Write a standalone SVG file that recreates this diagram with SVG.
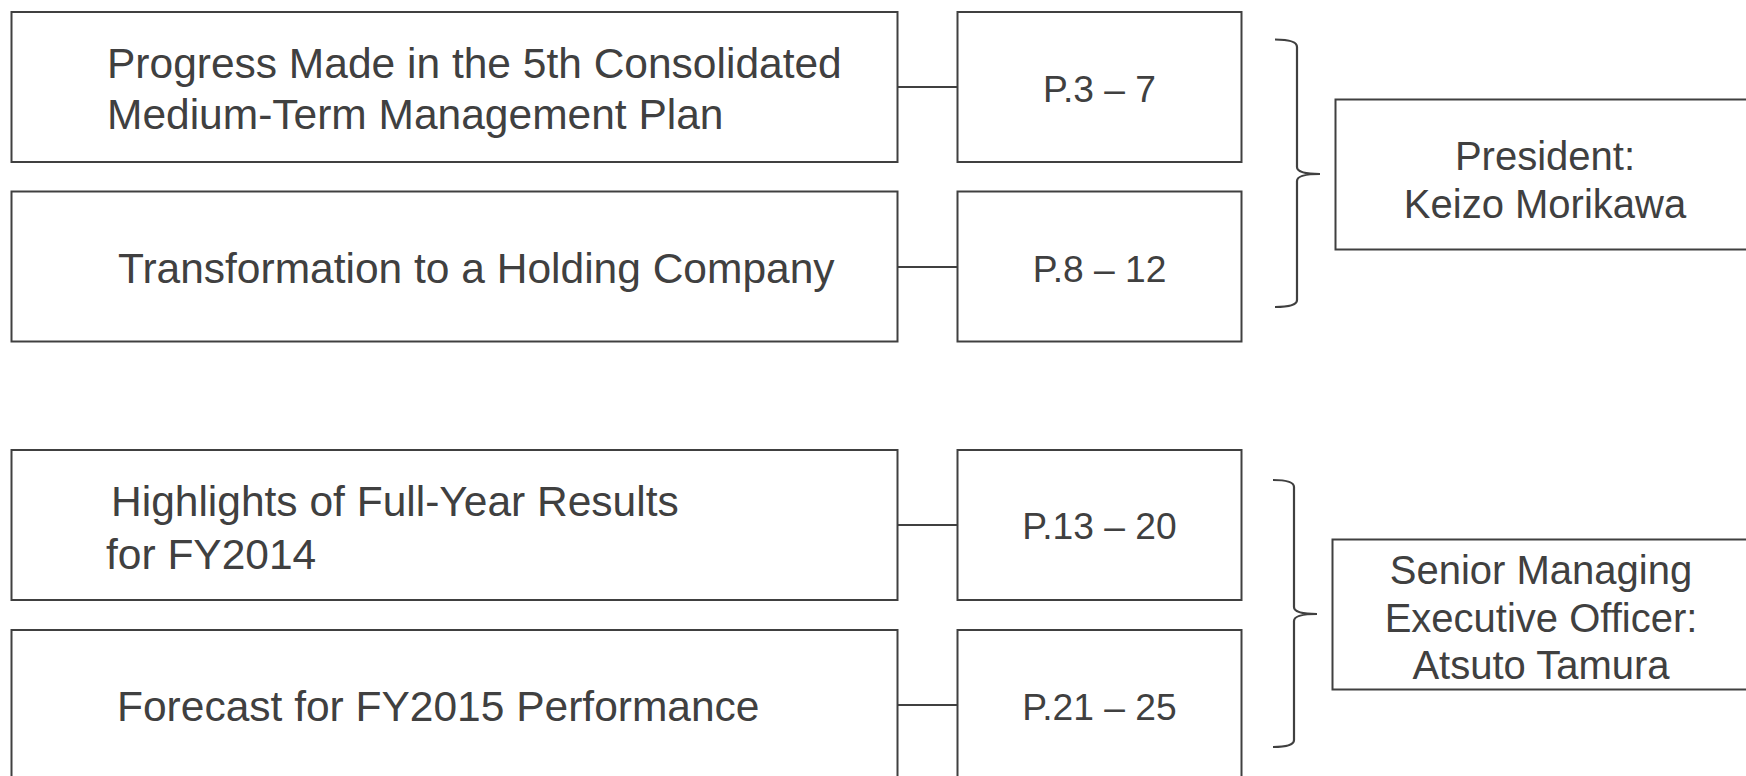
<svg xmlns="http://www.w3.org/2000/svg" width="1746" height="776" viewBox="0 0 1746 776">
  <style>
    .box { fill: #ffffff; stroke: #404040; stroke-width: 2; }
    .link { fill: none; stroke: #404040; stroke-width: 2; }
    .brace { fill: none; stroke: #404040; stroke-width: 2.2; }
    .t { font-family: "Liberation Sans", Arial, sans-serif; fill: #404040; font-size: 42.5px; }
    .pg { font-family: "Liberation Sans", Arial, sans-serif; fill: #404040; font-size: 37.2px; text-anchor: middle; }
    .who { font-family: "Liberation Sans", Arial, sans-serif; fill: #404040; font-size: 40px; text-anchor: middle; }
  </style>
  <rect width="1746" height="776" fill="#ffffff"/>

  <!-- connectors and braces -->
  <g id="connectors">
    <line class="link" x1="897" y1="87" x2="957" y2="87"/>
    <line class="link" x1="897" y1="267" x2="957" y2="267"/>
    <line class="link" x1="897" y1="525" x2="957" y2="525"/>
    <line class="link" x1="897" y1="705" x2="957" y2="705"/>
    <path class="brace" d="M1275 39.5 Q1297 39.5 1297 47 L1297 167 Q1297 174 1320 174 Q1297 174 1297 181 L1297 300 Q1297 307 1275 307"/>
    <path class="brace" d="M1273 480 Q1294 480 1294 487 L1294 607 Q1294 614 1317 614 Q1294 614 1294 621 L1294 740 Q1294 747 1273 747"/>
  </g>

  <!-- topic boxes -->
  <g id="topic-plan">
    <rect class="box" x="11.5" y="12" width="886" height="150"/>
    <text class="t" x="107" y="78">Progress Made in the 5th Consolidated</text>
    <text class="t" x="107" y="129">Medium-Term Management Plan</text>
  </g>
  <g id="topic-holding">
    <rect class="box" x="11.5" y="191.5" width="886" height="150"/>
    <text class="t" x="118" y="283">Transformation to a Holding Company</text>
  </g>
  <g id="topic-results">
    <rect class="box" x="11.5" y="450" width="886" height="150"/>
    <text class="t" x="111" y="516">Highlights of Full-Year Results</text>
    <text class="t" x="106" y="569">for FY2014</text>
  </g>
  <g id="topic-forecast">
    <rect class="box" x="11.5" y="630" width="886" height="150"/>
    <text class="t" x="117" y="721">Forecast for FY2015 Performance</text>
  </g>

  <!-- page range boxes -->
  <g id="pages-3-7">
    <rect class="box" x="957.5" y="12" width="284" height="150"/>
    <text class="pg" x="1099.5" y="102">P.3 – 7</text>
  </g>
  <g id="pages-8-12">
    <rect class="box" x="957.5" y="191.5" width="284" height="150"/>
    <text class="pg" x="1099.5" y="282">P.8 – 12</text>
  </g>
  <g id="pages-13-20">
    <rect class="box" x="957.5" y="450" width="284" height="150"/>
    <text class="pg" x="1099.5" y="539">P.13 – 20</text>
  </g>
  <g id="pages-21-25">
    <rect class="box" x="957.5" y="630" width="284" height="150"/>
    <text class="pg" x="1099.5" y="720">P.21 – 25</text>
  </g>

  <!-- presenters -->
  <g id="presenter-president">
    <rect class="box" x="1335.5" y="99.5" width="420" height="150"/>
    <text class="who" x="1545" y="170">President:</text>
    <text class="who" x="1545" y="218">Keizo Morikawa</text>
  </g>
  <g id="presenter-senior">
    <rect class="box" x="1332.5" y="539.5" width="420" height="150"/>
    <text class="who" x="1541" y="584">Senior Managing</text>
    <text class="who" x="1541" y="631.5">Executive Officer:</text>
    <text class="who" x="1541" y="679">Atsuto Tamura</text>
  </g>
</svg>
